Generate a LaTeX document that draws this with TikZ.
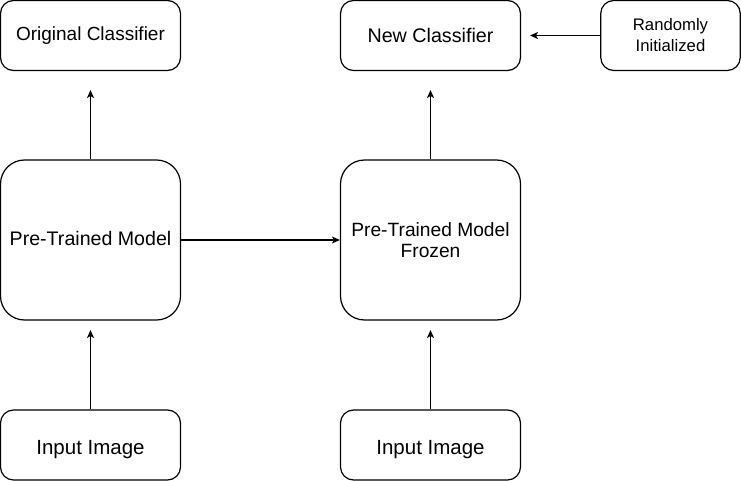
\documentclass[tikz,border=0pt]{standalone}
\usepackage{fontspec}
\setmainfont{Liberation Sans}
\usetikzlibrary{arrows.meta}
\begin{document}
\begin{tikzpicture}[x=1pt,y=-1pt,
  box/.style={draw, line width=1.2pt, rounded corners=#1, align=center, inner sep=0pt},
  box/.default=13pt,
  fs/.style={font=\fontsize{#1}{21}\selectfont},
  conn/.style={line width=1.2pt, -{Stealth[length=8pt,width=7pt,inset=2pt]}}]
\useasboundingbox (0,0) rectangle (741,481);
\node[box, fs=19, minimum width=180pt, minimum height=70pt] (oc) at (90.5,35.5) {Original Classifier};
\node[box, fs=19.7, minimum width=180pt, minimum height=70pt] (nc) at (430.5,35.5) {New Classifier};
\node[box, fs=16.7, minimum width=139.5pt, minimum height=70pt] (ri) at (670.5,35.5) {Randomly\\Initialized};
\node[box=24pt, fs=19.6, text height=10pt, text depth=0pt, minimum width=180pt, minimum height=160pt] (ptm) at (90.5,240) {Pre-Trained Model};
\node[box=24pt, fs=19.2, minimum width=180pt, minimum height=160pt] (ptmf) at (430.5,240) {Pre-Trained Model\\Frozen};
\node[box, fs=20.5, text height=18.7pt, text depth=0pt, minimum width=180pt, minimum height=70pt] (in1) at (90.5,445) {Input Image};
\node[box, fs=20.5, text height=18.7pt, text depth=0pt, minimum width=180pt, minimum height=70pt] (in2) at (430.5,445) {Input Image};
\coordinate (a1) at (90.5,90);
\coordinate (a2) at (430.5,90);
\coordinate (a3) at (90.5,330);
\coordinate (a4) at (430.5,330);
\coordinate (a5) at (530,35.5);
\draw[conn] (ptm.north) -- (a1);
\draw[conn] (ptmf.north) -- (a2);
\draw[conn] (in1.north) -- (a3);
\draw[conn] (in2.north) -- (a4);
\draw[conn] (ptm.east) -- (ptmf.west);
\draw[conn] (ri.west) -- (a5);
\end{tikzpicture}
\end{document}
